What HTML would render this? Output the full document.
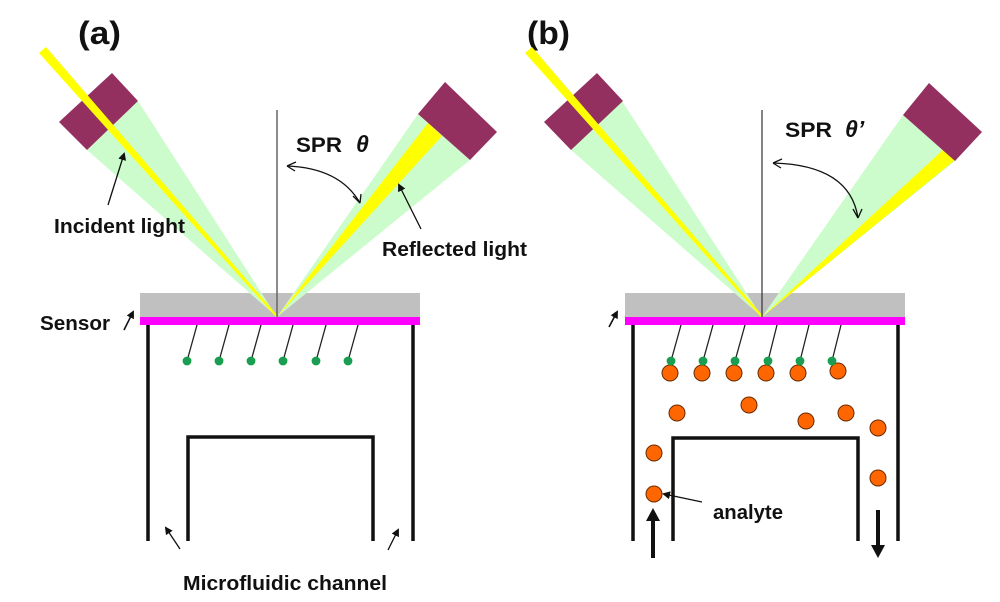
<!DOCTYPE html>
<html><head><meta charset="utf-8"><style>
html,body{margin:0;padding:0;background:#fff;}
svg{display:block;}
text{font-family:"Liberation Sans",Arial,sans-serif;font-weight:bold;fill:#111;}
</style></head><body>
<svg width="1000" height="602" viewBox="0 0 1000 602" xmlns="http://www.w3.org/2000/svg">
<defs>
<marker id="ah" markerWidth="8" markerHeight="8" refX="6" refY="4" orient="auto" markerUnits="userSpaceOnUse"><path d="M0,0 L8,4 L0,8 Z" fill="#111"/></marker>
</defs>

<!-- ========== PANEL A ========== -->
<text x="78" y="44" font-size="32" textLength="43" lengthAdjust="spacingAndGlyphs">(a)</text>
<rect x="140" y="293" width="280" height="24" fill="#c0c0c0"/>
<rect x="140" y="317" width="280" height="8" fill="#ff00ff"/>
<polygon points="87,150 138,101 277,317" fill="#ccfccc"/>
<polygon points="418,114 470,160 277,317" fill="#ccfccc"/>
<polygon points="428,123 442,136 277,317" fill="#ffff00"/>
<polygon points="59,122 112,73 138,101 87,150" fill="#943060"/>
<polygon points="418,114 445,82 497,132 470,160" fill="#943060"/>
<polygon points="39,53 46,47 278,316 276,317" fill="#ffff00"/>
<line x1="277" y1="110" x2="277" y2="317" stroke="#666" stroke-width="1.5"/>
<text x="296" y="152" font-size="21" font-weight="normal" textLength="46" lengthAdjust="spacingAndGlyphs">SPR</text>
<text x="356" y="152" font-size="23" font-weight="normal" font-style="italic" font-family="Liberation Serif,serif">θ</text>
<path d="M360,203 Q340,168 287,166" fill="none" stroke="#111" stroke-width="1.3"/>
<path d="M287,166 L296,162 M287,166 L295,171" stroke="#111" stroke-width="1.3"/>
<path d="M360,203 L353,196 M360,203 L361,194" stroke="#111" stroke-width="1.3"/>
<text x="54" y="233" font-size="20" textLength="131" lengthAdjust="spacingAndGlyphs">Incident light</text>
<line x1="108" y1="205" x2="124" y2="154" stroke="#111" stroke-width="1.3" marker-end="url(#ah)"/>
<text x="382" y="256" font-size="20" textLength="145" lengthAdjust="spacingAndGlyphs">Reflected light</text>
<line x1="421" y1="229" x2="399" y2="185" stroke="#111" stroke-width="1.3" marker-end="url(#ah)"/>
<text x="40" y="330" font-size="20" textLength="70" lengthAdjust="spacingAndGlyphs">Sensor</text>
<line x1="124" y1="330" x2="133" y2="312" stroke="#111" stroke-width="1.6" marker-end="url(#ah)"/>
<g stroke="#111" stroke-width="3.5" fill="none">
<line x1="148" y1="325" x2="148" y2="541"/>
<line x1="413" y1="325" x2="413" y2="541"/>
<polyline points="188,541 188,437 373,437 373,541"/>
</g>
<g stroke="#222" stroke-width="1.3">
<line x1="197" y1="325" x2="187" y2="361"/><line x1="229" y1="325" x2="219" y2="361"/>
<line x1="261" y1="325" x2="251" y2="361"/><line x1="293" y1="325" x2="283" y2="361"/>
<line x1="326" y1="325" x2="316" y2="361"/><line x1="358" y1="325" x2="348" y2="361"/>
</g>
<g fill="#1f9a5a" stroke="#0a3" stroke-width="0.8">
<circle cx="187" cy="361" r="4"/><circle cx="219" cy="361" r="4"/><circle cx="251" cy="361" r="4"/>
<circle cx="283" cy="361" r="4"/><circle cx="316" cy="361" r="4"/><circle cx="348" cy="361" r="4"/>
</g>
<text x="183" y="590" font-size="20" textLength="204" lengthAdjust="spacingAndGlyphs">Microfluidic channel</text>
<line x1="180" y1="549" x2="166" y2="528" stroke="#111" stroke-width="1.3" marker-end="url(#ah)"/>
<line x1="388" y1="550" x2="398" y2="530" stroke="#111" stroke-width="1.3" marker-end="url(#ah)"/>

<!-- ========== PANEL B ========== -->
<text x="527" y="44" font-size="32" textLength="43" lengthAdjust="spacingAndGlyphs">(b)</text>
<rect x="625" y="293" width="280" height="24" fill="#c0c0c0"/>
<rect x="625" y="317" width="280" height="8" fill="#ff00ff"/>
<polygon points="571,150 622,101 762,317" fill="#ccfccc"/>
<polygon points="903,115 955,161 762,317" fill="#ccfccc"/>
<polygon points="944,149 955,160 762,317" fill="#ffff00"/>
<polygon points="544,122 597,73 623,101 571,150" fill="#943060"/>
<polygon points="903,115 929,83 982,132 955,161" fill="#943060"/>
<polygon points="525,53 532,47 763,316 761,317" fill="#ffff00"/>
<line x1="762" y1="110" x2="762" y2="317" stroke="#333" stroke-width="1.2"/>
<text x="785" y="137" font-size="21" font-weight="normal" textLength="47" lengthAdjust="spacingAndGlyphs">SPR</text>
<text x="845" y="137" font-size="23" font-weight="normal" font-style="italic" font-family="Liberation Serif,serif">θ’</text>
<path d="M858,218 Q850,165 773,163" fill="none" stroke="#111" stroke-width="1.3"/>
<path d="M773,163 L782,159 M773,163 L781,168" stroke="#111" stroke-width="1.3"/>
<path d="M858,218 L853,209 M858,218 L862,209" stroke="#111" stroke-width="1.3"/>
<line x1="609" y1="327" x2="617" y2="312" stroke="#111" stroke-width="1.6" marker-end="url(#ah)"/>
<g stroke="#111" stroke-width="3.5" fill="none">
<line x1="633" y1="325" x2="633" y2="541"/>
<line x1="898" y1="325" x2="898" y2="541"/>
<polyline points="673,541 673,438 858,438 858,541"/>
</g>
<g stroke="#222" stroke-width="1.3">
<line x1="681" y1="325" x2="671" y2="361"/><line x1="713" y1="325" x2="703" y2="361"/>
<line x1="745" y1="325" x2="735" y2="361"/><line x1="777" y1="325" x2="768" y2="361"/>
<line x1="809" y1="325" x2="800" y2="361"/><line x1="841" y1="325" x2="832" y2="361"/>
</g>
<g fill="#ff6600" stroke="#6a2a00" stroke-width="1">
<circle cx="670" cy="373" r="8"/><circle cx="702" cy="373" r="8"/><circle cx="734" cy="373" r="8"/>
<circle cx="766" cy="373" r="8"/><circle cx="798" cy="373" r="8"/><circle cx="838" cy="371" r="8"/>
<circle cx="677" cy="413" r="8"/><circle cx="749" cy="405" r="8"/><circle cx="806" cy="421" r="8"/>
<circle cx="846" cy="413" r="8"/><circle cx="878" cy="428" r="8"/><circle cx="654" cy="453" r="8"/>
<circle cx="878" cy="478" r="8"/><circle cx="654" cy="494" r="8"/>
</g>
<g fill="#1f9a5a" stroke="#0a3" stroke-width="0.8">
<circle cx="671" cy="361" r="4"/><circle cx="703" cy="361" r="4"/><circle cx="735" cy="361" r="4"/>
<circle cx="768" cy="361" r="4"/><circle cx="800" cy="361" r="4"/><circle cx="832" cy="361" r="4"/>
</g>
<line x1="702" y1="502" x2="664" y2="494" stroke="#111" stroke-width="1.2" marker-end="url(#ah)"/>
<text x="713" y="519" font-size="20" textLength="70" lengthAdjust="spacingAndGlyphs">analyte</text>
<line x1="653" y1="558" x2="653" y2="520" stroke="#111" stroke-width="4"/>
<polygon points="646,521 660,521 653,508" fill="#111"/>
<line x1="878" y1="510" x2="878" y2="546" stroke="#111" stroke-width="4"/>
<polygon points="871,545 885,545 878,558" fill="#111"/>
</svg>
</body></html>
